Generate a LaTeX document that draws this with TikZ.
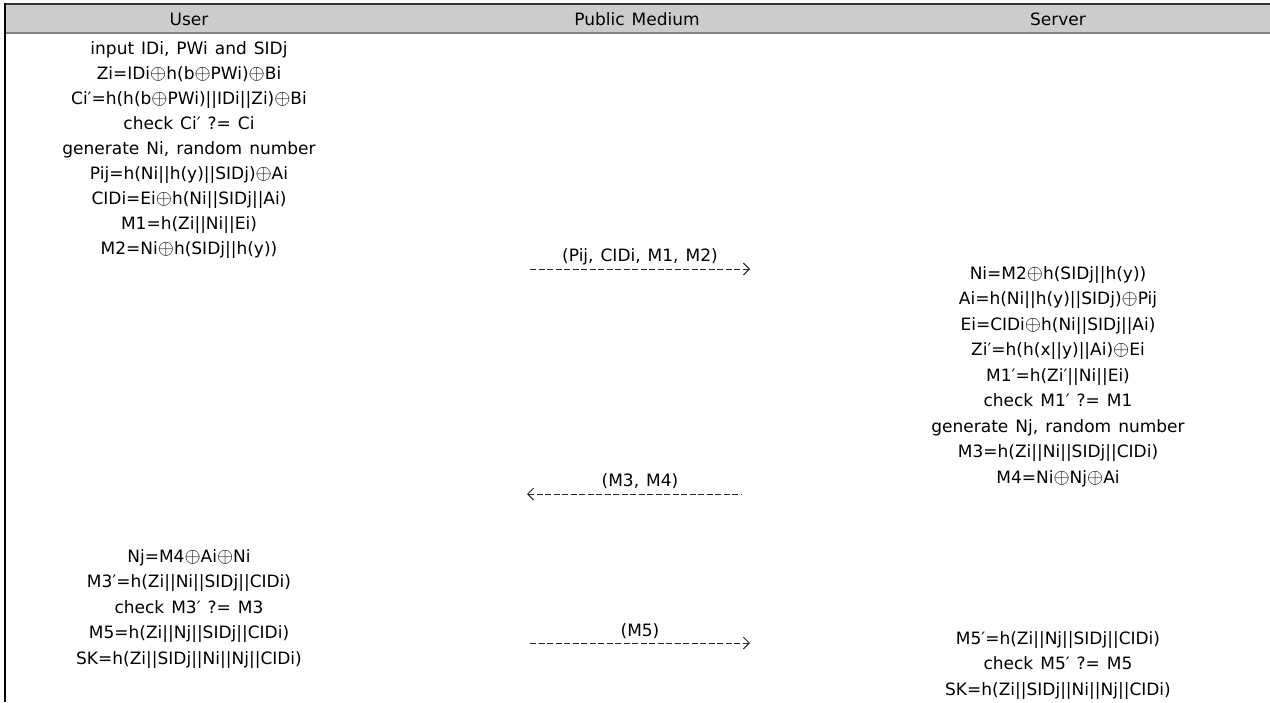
\documentclass[tikz,border=0pt]{standalone}
\usepackage{fontspec}
\setmainfont{DejaVu Sans}[WordSpace=1.3]
\usetikzlibrary{arrows.meta}
\newcommand{\xo}{{\fontsize{20pt}{20pt}\selectfont$\oplus$}}
\tikzset{
  cell/.style={inner sep=0pt,text height=13pt,text depth=1pt},
  msg/.style={dash pattern=on 6pt off 2.5pt,line width=.9pt,black!85},
  msgr/.style={msg,-{Straight Barb[length=6pt,width=12pt]}},
  msgl/.style={msg,{Straight Barb[length=6pt,width=12pt]}-}}

\begin{document}
\begin{tikzpicture}[x=1pt,y=-1pt,font=\fontsize{17pt}{20pt}\selectfont]
  \useasboundingbox (0,0) rectangle (1270,702);
  % header row
  \fill[black!20] (5,4) rectangle (1270,33);
  \draw[line width=1.2pt,black!80] (5,4) -- (1270,4);
  \draw[line width=2pt,black!50] (5,33) -- (1270,33);
  \draw[line width=1.6pt] (5,3.4) -- (5,702);
  \node[cell] (huser) at (189,19) {User};
  \node[cell] (hpub) at (637,19) {Public Medium};
  \node[cell] (hserv) at (1058,19) {Server};
  % user, first step
  \foreach \txt [count=\i from 0] in {{input IDi, PWi and SIDj},
      Zi=IDi\xo h(b\xo PWi)\xo Bi, Ci′=h(h(b\xo PWi)||IDi||Zi)\xo Bi,
      check Ci′ ?= Ci, {generate Ni, random number},
      Pij=h(Ni||h(y)||SIDj)\xo Ai, CIDi=Ei\xo h(Ni||SIDj||Ai),
      M1=h(Zi||Ni||Ei), M2=Ni\xo h(SIDj||h(y))}
    \node[cell] (usr\i) at (189,48+25*\i) {\txt};
  % server, first step
  \foreach \txt [count=\i from 0] in {Ni=M2\xo h(SIDj||h(y)),
      Ai=h(Ni||h(y)||SIDj)\xo Pij, Ei=CIDi\xo h(Ni||SIDj||Ai),
      Zi′=h(h(x||y)||Ai)\xo Ei, M1′=h(Zi′||Ni||Ei), check M1′ ?= M1,
      {generate Nj, random number}, M3=h(Zi||Ni||SIDj||CIDi),
      M4=Ni\xo Nj\xo Ai}
    \node[cell] (srv\i) at (1058,273+25.5*\i) {\txt};
  % user, second step
  \foreach \txt [count=\i from 0] in {Nj=M4\xo Ai\xo Ni,
      M3′=h(Zi||Ni||SIDj||CIDi), check M3′ ?= M3,
      M5=h(Zi||Nj||SIDj||CIDi), SK=h(Zi||SIDj||Ni||Nj||CIDi)}
    \node[cell] (usrb\i) at (189,556+25.5*\i) {\txt};
  % server, second step
  \foreach \txt [count=\i from 0] in {M5′=h(Zi||Nj||SIDj||CIDi),
      check M5′ ?= M5, SK=h(Zi||SIDj||Ni||Nj||CIDi)}
    \node[cell] (srvb\i) at (1058,638+25.5*\i) {\txt};
  % messages
  \node[cell] (pm1) at (640,255) {(Pij, CIDi, M1, M2)};
  \coordinate (pm1l) at (530,269);
  \coordinate (pm1r) at (750,269);
  \draw[msgr] (pm1l) -- (pm1r);
  \node[cell] (pm2) at (640,480) {(M3, M4)};
  \coordinate (pm2l) at (527,494);
  \coordinate (pm2r) at (742,494);
  \draw[msgl] (pm2l) -- (pm2r);
  \node[cell] (pm3) at (640,630) {(M5)};
  \coordinate (pm3l) at (530,643);
  \coordinate (pm3r) at (750,643);
  \draw[msgr] (pm3l) -- (pm3r);
\end{tikzpicture}
\end{document}
